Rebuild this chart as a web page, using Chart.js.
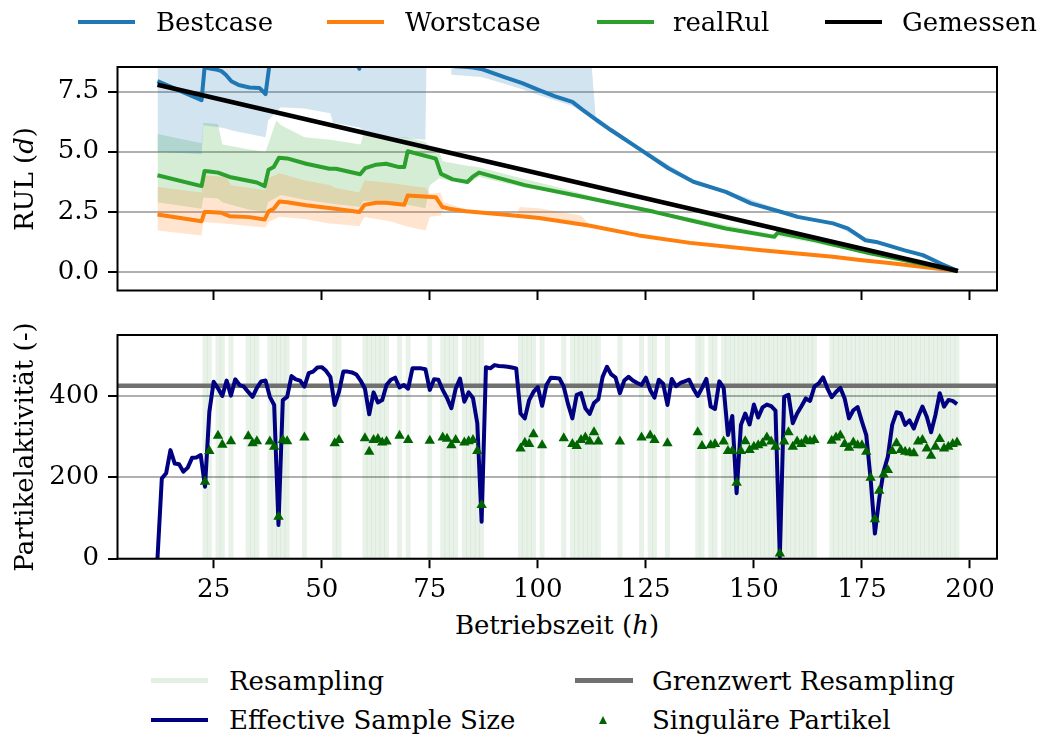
<!DOCTYPE html>
<html><head><meta charset="utf-8">
<script src="https://cdn.jsdelivr.net/npm/chart.js@4.4.0/dist/chart.umd.min.js"></script>
<style>
html,body{margin:0;padding:0;background:#fff;}
body{width:1037px;height:735px;position:relative;overflow:hidden;font-family:'DejaVu Serif',serif;color:#000;}
.box{position:absolute;left:0;width:1037px;height:300px;}
.t{position:absolute;font-size:26px;line-height:26px;white-space:nowrap;}
.sw{position:absolute;}
.rot{position:absolute;width:400px;text-align:center;font-size:26px;line-height:26px;white-space:nowrap;transform:rotate(-90deg);}
</style></head><body>

<div class="box" style="top:0"><canvas id="cTop"></canvas></div>
<div class="box" style="top:300px"><canvas id="cBot"></canvas></div>

<!-- top legend -->
<div class="sw" style="left:78px;top:20px;width:57px;height:4px;background:#1f77b4"></div>
<div class="t" style="left:156px;top:9px">Bestcase</div>
<div class="sw" style="left:327px;top:20px;width:57px;height:4px;background:#ff7f0e"></div>
<div class="t" style="left:405px;top:9px">Worstcase</div>
<div class="sw" style="left:597px;top:20px;width:57px;height:4px;background:#2ca02c"></div>
<div class="t" style="left:673px;top:9px">realRul</div>
<div class="sw" style="left:825px;top:20px;width:57px;height:4px;background:#000"></div>
<div class="t" style="left:902px;top:9px">Gemessen</div>

<!-- axis titles -->
<div class="rot" style="left:-176px;top:166px">RUL (<i>d</i>)</div>
<div class="rot" style="left:-176px;top:434px">Partikelaktivität (-)</div>
<div class="t" style="left:357px;width:400px;text-align:center;top:612px">Betriebszeit (<i>h</i>)</div>

<!-- bottom legend -->
<div class="sw" style="left:151px;top:678px;width:57px;height:5px;background:#e2efe2"></div>
<div class="t" style="left:229px;top:668px">Resampling</div>
<div class="sw" style="left:575px;top:678px;width:58px;height:5px;background:#707070"></div>
<div class="t" style="left:652px;top:668px">Grenzwert Resampling</div>
<div class="sw" style="left:151px;top:718px;width:57px;height:4px;background:#000080"></div>
<div class="t" style="left:229px;top:707px">Effective Sample Size</div>
<div class="sw" style="left:599px;top:716px;width:0;height:0;border-left:4px solid transparent;border-right:4px solid transparent;border-bottom:8px solid #006400"></div>
<div class="t" style="left:652px;top:707px">Singuläre Partikel</div>

<script>
// ---------- data ----------
const xTicks = [25, 50, 75, 100, 125, 150, 175, 200];
const rulTicks = [0, 2.5, 5, 7.5];
const essTicks = [0, 200, 400];
const xMin = 2.75, xMax = 206.25;
const rulMin = -0.77, rulMax = 8.52;
const essMin = 0, essMax = 550;

// Gemessen (measured RUL)
const gemX = [12, 197.2];
const gemY = [7.78, 0.04];

// Bestcase
const bestX = [12, 22.2, 22.9, 24.5, 25.5, 26.8, 27.8, 29.1, 30.8, 33.3, 35.6, 37, 37.9, 38.5, 58.2, 58.7, 59.2, 80, 80.8, 83, 85, 87.2, 92.6, 96.4, 100.3, 104, 108, 110.3, 113, 116.9, 123.4, 130.2, 136, 143.5, 149.3, 157.6, 160.1, 168.3, 171.7, 175.8, 178.3, 184.9, 189.1, 193.2, 197.2];
const bestY = [7.93, 7.14, 8.50, 8.45, 8.42, 8.35, 8.2, 7.93, 7.77, 7.67, 7.65, 7.39, 8.6, 9.3, 9.2, 8.45, 9.2, 9.0, 8.55, 8.53, 8.5, 8.42, 8.08, 7.85, 7.56, 7.3, 7.07, 6.75, 6.40, 5.9, 5.13, 4.31, 3.75, 3.33, 2.85, 2.43, 2.29, 2.02, 1.81, 1.32, 1.25, 0.90, 0.70, 0.35, 0.04];

// Worstcase
const worstX = [12, 22.2, 22.9, 24, 26.8, 28.7, 33.3, 36.8, 37.7, 38.9, 40.2, 42, 46.4, 52.2, 58.7, 59.9, 62.6, 64.9, 69.1, 69.9, 76.4, 77.9, 79.5, 83.4, 92.6, 100.3, 111.8, 123.4, 135.2, 151.8, 168.3, 175, 180.8, 197.2];
const worstY = [2.39, 2.11, 2.49, 2.49, 2.46, 2.32, 2.28, 2.18, 2.52, 2.63, 2.93, 2.90, 2.77, 2.65, 2.49, 2.79, 2.88, 2.88, 2.79, 3.18, 3.11, 2.70, 2.63, 2.52, 2.38, 2.24, 1.93, 1.52, 1.21, 0.90, 0.63, 0.49, 0.38, 0.04];

// realRul
const realX = [12, 22.2, 22.9, 24, 26, 28.7, 33.3, 35, 36.8, 37.7, 38.9, 40.1, 42, 46.4, 51.8, 53.3, 58.9, 60.1, 62.6, 64.9, 67.9, 69.1, 69.9, 76.4, 77.6, 80.3, 83.7, 84.9, 86.4, 97, 110.3, 126.9, 135.2, 143.5, 154.7, 155.5, 164.2, 176.6, 197.2];
const realY = [4.02, 3.57, 4.20, 4.18, 4.13, 3.95, 3.78, 3.72, 3.57, 4.25, 4.36, 4.75, 4.72, 4.50, 4.29, 4.29, 4.06, 4.32, 4.46, 4.50, 4.36, 4.36, 5.02, 4.71, 4.08, 3.85, 3.74, 3.95, 4.13, 3.61, 3.13, 2.50, 2.15, 1.81, 1.46, 1.63, 1.32, 0.79, 0.04];

// Bands (particle spread)
const bestBandX = [12, 22.2, 22.6, 27, 30, 33, 37, 37.6, 40.5, 46, 52, 52.6, 59, 60, 67, 74, 74.3, 79.8, 80, 87, 92.6, 96.4, 100.3, 108, 111, 112, 113.4, 123.4, 136, 143.5, 157.6, 168.3, 175.8, 184.9, 193.2, 197.2];
const bestBandLow = [5.0, 4.9, 6.1, 6.0, 5.85, 5.75, 5.6, 6.3, 6.85, 6.8, 6.6, 6.2, 6.0, 5.7, 5.6, 5.5, 9.6, 9.6, 8.2, 8.1, 7.8, 7.6, 7.35, 6.9, 6.6, 6.5, 6.2, 5.05, 3.68, 3.27, 2.38, 1.98, 1.28, 0.87, 0.33, 0.04];
const bestBandHigh = [9.6, 9.6, 9.6, 9.6, 9.6, 9.6, 9.6, 9.6, 9.6, 9.6, 9.6, 9.6, 9.6, 9.6, 9.6, 9.6, 9.6, 9.6, 9.6, 9.6, 9.6, 9.6, 9.6, 9.6, 9.6, 9.6, 6.45, 5.22, 3.82, 3.4, 2.48, 2.06, 1.36, 0.94, 0.38, 0.04];

const worstBandX = [12, 22.2, 22.6, 28, 29, 37, 37.6, 40.2, 46, 52, 53, 58.7, 59.9, 66, 69.5, 74, 75, 77.5, 78.2, 83.4, 92.6, 95, 95.8, 100.3, 110, 112, 123.4, 197.2];
const worstBandLow = [1.72, 1.52, 2.07, 2.0, 1.98, 1.85, 2.07, 2.3, 2.2, 2.0, 2.0, 1.9, 2.28, 2.1, 1.9, 1.72, 2.28, 2.35, 2.62, 2.48, 2.35, 2.3, 2.3, 2.21, 1.97, 1.9, 1.5, 0.04];
const worstBandHigh = [3.53, 3.3, 4.02, 3.95, 3.6, 3.4, 3.9, 4.1, 3.8, 3.6, 3.5, 3.3, 3.8, 3.7, 3.6, 3.5, 3.25, 3.3, 2.9, 2.6, 2.42, 2.36, 2.7, 2.65, 2.35, 1.95, 1.54, 0.04];

const realBandX = [12, 22.2, 22.6, 26, 27, 33, 37, 37.6, 39.5, 40.6, 46, 52, 59, 59.6, 65, 69.5, 74, 75, 77.2, 78, 84, 86.4, 97, 104, 110.3, 115, 126.9, 197.2];
const realBandLow = [2.9, 2.63, 3.1, 3.05, 2.9, 2.6, 2.5, 2.9, 3.1, 3.2, 3.0, 2.85, 2.7, 2.95, 2.9, 2.8, 2.65, 3.6, 3.9, 3.85, 3.7, 3.95, 3.5, 3.3, 3.1, 2.95, 2.48, 0.04];
const realBandHigh = [5.73, 5.35, 6.2, 6.15, 5.3, 5.1, 5.0, 5.3, 6.3, 6.1, 5.6, 5.5, 5.3, 5.7, 5.6, 5.6, 5.4, 5.2, 5.0, 4.6, 4.4, 4.35, 3.85, 3.55, 3.25, 3.0, 2.55, 0.04];

// Effective Sample Size per hour
const hours = [
 12,13,14,15,16,17,18,19,20,21,
 22,23,24,25,26,27,28,29,30,31,
 32,33,34,35,36,37,38,39,40,41,
 42,43,44,45,46,47,48,49,50,51,
 52,53,54,55,56,57,58,59,60,61,
 62,63,64,65,66,67,68,69,70,71,
 72,73,74,75,76,77,78,79,80,81,
 82,83,84,85,86,87,88,89,90,91,
 92,93,94,95,96,97,98,99,100,101,
 102,103,104,105,106,107,108,109,110,111,
 112,113,114,115,116,117,118,119,120,121,
 122,123,124,125,126,127,128,129,130,131,
 132,133,134,135,136,137,138,139,140,141,
 142,143,144,145,146,147,148,149,150,151,
 152,153,154,155,156,157,158,159,160,161,
 162,163,164,165,166,167,168,169,170,171,
 172,173,174,175,176,177,178,179,180,181,
 182,183,184,185,186,187,188,189,190,191,
 192,193,194,195,196,197];
const ess = [
 0,197,210,267,234,232,214,224,248,249,
 255,177,361,435,419,400,438,401,441,427,
 423,410,398,420,436,438,398,378,83,390,
 398,449,441,438,423,456,460,470,471,462,
 447,378,410,460,460,458,453,438,418,355,
 409,384,390,427,440,445,421,427,418,468,
 468,468,466,415,441,440,415,395,370,418,
 443,386,409,395,333,91,471,468,476,474,
 473,472,470,468,357,345,390,410,422,376,
 427,445,444,443,423,380,345,403,407,370,
 356,383,392,447,472,453,445,407,438,447,
 438,432,427,445,415,396,440,430,378,442,
 424,432,436,440,418,400,420,442,374,368,
 436,420,304,351,161,329,357,330,379,347,
 372,379,375,364,5,398,403,333,357,375,
 394,388,423,431,446,419,397,410,420,394,
 345,365,373,337,304,197,62,148,214,251,
 329,360,357,329,340,320,349,374,349,311,
 353,407,374,390,388,380];

// Singuläre Partikel
const singTimes = [23,24,26,27,29,33,34,35,38,39,40,41,42,46,53,54,60,61,62,63,64,65,68,70,75,78,79,80,81,83,84,85,86,87,96,97,98,99,101,106,108,109,110,111,112,113,114,119,124,126,127,130,137,138,140,141,143,144,145,146,147,148,149,150,151,152,153,154,155,156,157,158,159,160,161,162,163,164,168,169,170,171,172,173,174,175,176,177,178,179,180,181,182,183,184,185,186,187,188,189,190,191,192,193,194,195,196,197];
const singValues = [189,265,302,280,289,301,284,289,288,275,103,292,289,298,284,292,296,263,292,294,286,288,302,292,290,298,295,279,292,286,289,292,265,132,271,285,282,306,279,296,282,277,292,298,288,311,288,288,298,303,292,284,311,277,279,282,288,265,265,187,265,289,267,275,279,284,298,288,275,13,288,311,275,288,282,292,289,292,290,298,303,282,273,286,279,279,263,199,97,167,207,218,265,284,267,263,261,259,288,292,271,253,275,294,271,275,282,286];

// Resampling events (hours)
const resamplingTimes = [23,24,26,27,29,33,34,35,38,39,40,41,42,46,53,54,60,61,62,63,64,65,68,70,75,78,79,80,81,83,84,85,86,87,96,97,98,99,101,106,108,109,110,111,112,113,114,119,124,126,127,130,137,138,140,141,143,144,145,146,147,148,149,150,151,152,153,154,155,156,157,158,159,160,161,162,163,164,168,169,170,171,172,173,174,175,176,177,178,179,180,181,182,183,184,185,186,187,188,189,190,191,192,193,194,195,196,197];
const grenzwert = 425;

// ---------- chart ----------
const pts = (xs, ys) => xs.map((x, i) => ({x: x, y: ys[i]}));
const FONT = {family: "'DejaVu Serif'", size: 26};

const framePlugin = {
  id: 'frame',
  afterDraw(chart) {
    const a = chart.chartArea, c = chart.ctx;
    c.save(); c.strokeStyle = '#000'; c.lineWidth = 2;
    c.strokeRect(a.left, a.top, a.right - a.left, a.bottom - a.top);
    c.restore();
  }
};

function noPad(s) { s.paddingTop = 0; s.paddingBottom = 0; s.paddingLeft = 0; s.paddingRight = 0; }

function xScale(showLabels, h) {
  return {
    type: 'linear', min: xMin, max: xMax, offset: false,
    afterBuildTicks: s => { s.ticks = xTicks.map(v => ({value: v})); },
    ticks: {color: showLabels ? '#000' : 'rgba(0,0,0,0)', font: FONT, padding: 6, maxRotation: 0, autoSkip: false},
    grid: {offset: false, drawOnChartArea: false, drawTicks: true, tickLength: 9.5, tickColor: '#000', tickWidth: 2},
    border: {display: false},
    afterFit: s => { s.height = h; noPad(s); }
  };
}
function yScale(min, max, ticks, fmt) {
  return {
    type: 'linear', min: min, max: max,
    afterBuildTicks: s => { s.ticks = ticks.map(v => ({value: v})); },
    ticks: {color: '#000', font: FONT, padding: 9, callback: fmt},
    grid: {color: '#b0b0b0', lineWidth: 2, tickLength: 9.5, tickColor: '#000', tickWidth: 2},
    border: {display: false},
    afterFit: s => { s.width = 117.5; noPad(s); }
  };
}
const common = {
  responsive: true, maintainAspectRatio: false, animation: false, devicePixelRatio: 1,
  plugins: {legend: {display: false}, tooltip: {enabled: false}},
  events: []
};
const line = (label, data, color, w) => ({label: label, data: data, borderColor: color, borderWidth: w, pointRadius: 0, fill: false, tension: 0, borderJoinStyle: 'round'});
const edge = (data) => ({data: data, borderWidth: 0, pointRadius: 0, fill: false, borderColor: 'rgba(0,0,0,0)'});
const fillTo = (data, idx, color) => ({data: data, borderWidth: 0, pointRadius: 0, fill: idx, backgroundColor: color, borderColor: 'rgba(0,0,0,0)'});

new Chart(document.getElementById('cTop'), {
  type: 'line',
  data: {datasets: [
    line('Gemessen', pts(gemX, gemY), '#000', 4.5),
    line('realRul', pts(realX, realY), '#2ca02c', 4),
    line('Worstcase', pts(worstX, worstY), '#ff7f0e', 4),
    line('Bestcase', pts(bestX, bestY), '#1f77b4', 4),
    edge(pts(bestBandX, bestBandLow)),
    fillTo(pts(bestBandX, bestBandHigh), 4, 'rgba(31,119,180,0.2)'),
    edge(pts(worstBandX, worstBandLow)),
    fillTo(pts(worstBandX, worstBandHigh), 6, 'rgba(255,127,14,0.2)'),
    edge(pts(realBandX, realBandLow)),
    fillTo(pts(realBandX, realBandHigh), 8, 'rgba(44,160,44,0.2)')
  ]},
  options: Object.assign({}, common, {
    layout: {padding: {left: 0, right: 40, top: 67, bottom: 0}},
    scales: {
      x: xScale(false, 9.5),
      y: yScale(rulMin, rulMax, rulTicks, v => Number(v).toFixed(1))
    }
  }),
  plugins: [framePlugin]
});

new Chart(document.getElementById('cBot'), {
  type: 'line',
  data: {datasets: [
    {label: 'Singuläre Partikel', data: pts(singTimes, singValues), showLine: false, pointStyle: 'triangle', pointRadius: 6, backgroundColor: '#006400', borderColor: '#006400', borderWidth: 0},
    line('Effective Sample Size', pts(hours, ess), '#000080', 4),
    line('Grenzwert Resampling', [{x: xMin, y: grenzwert}, {x: xMax, y: grenzwert}], '#707070', 4.5),
    {type: 'bar', label: 'Resampling', data: resamplingTimes.map(t => ({x: t, y: essMax})), backgroundColor: 'rgba(0,110,0,0.09)', borderWidth: 0, barPercentage: 1, categoryPercentage: 1}
  ]},
  options: Object.assign({}, common, {
    layout: {padding: {left: 0, right: 40, top: 35, bottom: 0}},
    scales: {
      x: xScale(true, 41.3),
      y: yScale(essMin, essMax, essTicks, v => String(v))
    }
  }),
  plugins: [framePlugin]
});
</script>
</body></html>
